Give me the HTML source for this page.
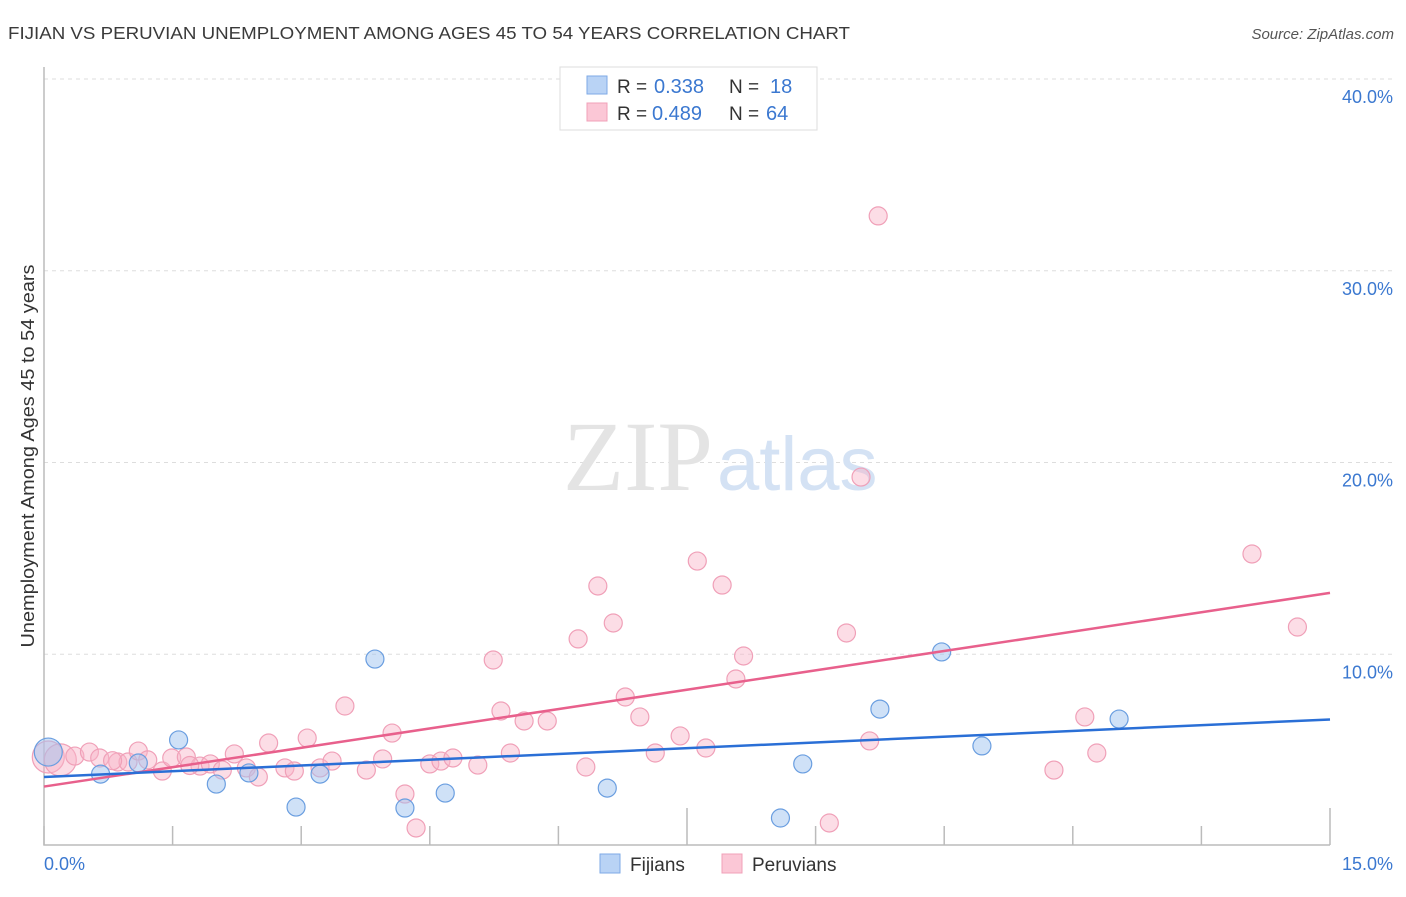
<!DOCTYPE html>
<html><head><meta charset="utf-8"><style>
body{margin:0;background:#fff;font-family:"Liberation Sans",sans-serif}
</style></head><body>
<svg width="1406" height="892" xmlns="http://www.w3.org/2000/svg">
<text x="8" y="39" font-size="17.5" fill="#3a3a3a" textLength="842" lengthAdjust="spacingAndGlyphs">FIJIAN VS PERUVIAN UNEMPLOYMENT AMONG AGES 45 TO 54 YEARS CORRELATION CHART</text>
<text x="1394" y="39" font-size="15" fill="#555" font-style="italic" text-anchor="end">Source: ZipAtlas.com</text>
<g id="grid"></g>
<text x="713" y="490" font-size="100" fill="#e4e4e4" text-anchor="end" font-family="Liberation Serif,serif">ZIP</text>
<text x="717" y="490" font-size="76" fill="#d4e2f4">atlas</text>
<g id="marks"></g>
<text transform="translate(34,456) rotate(-90)" font-size="18" fill="#333" text-anchor="middle" textLength="383" lengthAdjust="spacingAndGlyphs">Unemployment Among Ages 45 to 54 years</text>
<text x="44" y="870" font-size="18" fill="#3b78d0">0.0%</text>
<text x="1393" y="870" font-size="18" fill="#3b78d0" text-anchor="end">15.0%</text>
<g>
<rect x="560" y="67" width="257" height="63" fill="#fff" stroke="#ddd"/>
<rect x="587" y="76" width="20" height="18" fill="#b9d3f5" stroke="#7ea9e6"/>
<rect x="587" y="103" width="20" height="18" fill="#fbc7d6" stroke="#f0a0b8"/>
<text x="617" y="93" font-size="19" fill="#333">R =</text>
<text x="654" y="93" font-size="20" fill="#3b78d0">0.338</text>
<text x="729" y="93" font-size="19" fill="#333">N =</text>
<text x="770" y="93" font-size="20" fill="#3b78d0">18</text>
<text x="617" y="120" font-size="19" fill="#333">R =</text>
<text x="652" y="120" font-size="20" fill="#3b78d0">0.489</text>
<text x="729" y="120" font-size="19" fill="#333">N =</text>
<text x="766" y="120" font-size="20" fill="#3b78d0">64</text>
</g>
<g>
<rect x="600" y="854" width="20" height="19" fill="#b9d3f5" stroke="#7ea9e6"/>
<text x="630" y="871" font-size="19" fill="#333">Fijians</text>
<rect x="722" y="854" width="20" height="19" fill="#fbc7d6" stroke="#f0a0b8"/>
<text x="752" y="871" font-size="19" fill="#333">Peruvians</text>
</g>
</svg>
<script>
const yTicks=[10,20,30,40];
const yTickLabels=["10.0%","20.0%","30.0%","40.0%"];
const xTicks=[0,1.5,3,4.5,6,7.5,9,10.5,12,13.5,15];
const fijX=[0.05,0.66,1.10,1.57,2.01,2.39,2.94,3.22,3.86,4.21,4.68,6.57,8.59,8.85,9.75,10.47,10.94,12.54];
const fijY=[4.9,3.75,4.33,5.53,3.23,3.81,2.03,3.75,9.75,1.98,2.76,3.02,1.46,4.28,7.14,10.12,5.22,6.62];
const perX=[0.05,0.19,0.36,0.53,0.65,0.86,0.98,1.10,1.21,1.38,1.49,1.66,1.82,1.94,2.08,2.22,2.36,2.50,2.62,2.81,2.92,3.07,3.22,3.36,3.51,3.76,3.95,4.06,4.21,4.34,4.50,4.63,4.77,5.06,5.24,5.33,5.44,5.60,5.87,6.23,6.32,6.46,6.64,6.78,6.95,7.13,7.42,7.62,7.72,7.91,8.07,8.16,9.16,9.36,9.63,9.73,9.53,11.78,12.14,12.28,14.09,14.62,0.80,1.70];
const perY=[4.64,4.49,4.69,4.90,4.59,4.38,4.38,4.95,4.49,3.91,4.59,4.64,4.17,4.28,3.96,4.80,4.07,3.60,5.37,4.07,3.91,5.63,4.07,4.43,7.30,3.96,4.54,5.89,2.71,0.94,4.28,4.43,4.59,4.22,9.70,7.04,4.85,6.52,6.52,10.80,4.12,13.56,11.63,7.77,6.73,4.85,5.74,14.86,5.11,13.61,8.71,9.91,1.20,11.11,5.48,32.86,19.24,3.96,6.73,4.85,15.23,11.42,4.45,4.2];
const fijTrend=[3.6,6.6];
const perTrend=[3.1,13.2];
const sx=v=>44+v/15*1286;
const sy=v=>846-v/40*767;
const NS="http://www.w3.org/2000/svg";
const grid=document.getElementById('grid'), marks=document.getElementById('marks');
function mk(tag,attrs,parent){const e=document.createElementNS(NS,tag);for(const k in attrs)e.setAttribute(k,attrs[k]);parent.appendChild(e);return e;}
yTicks.forEach((t,i)=>{
 const l=mk('line',{x1:44,x2:1392,y1:sy(t),y2:sy(t),stroke:'#ddd','stroke-dasharray':'4,4'},grid);
 
 
 const tx=mk('text',{x:1393,y:sy(t)+24,'font-size':18,fill:'#3b78d0','text-anchor':'end'},grid);
 tx.textContent=yTickLabels[i];
 
 
});
const ax=mk('path',{d:'M44 67 V845 H1330',stroke:'#bbb',fill:'none','stroke-width':1.5},grid);


xTicks.forEach((t,i)=>{
 const tall=(i==5||i==10);
 const l=mk('line',{x1:sx(t),x2:sx(t),y1:845,y2:tall?808:826,stroke:'#bbb','stroke-width':1.5},grid);
 
 
});
perX.forEach((x,i)=>{
 const c=mk('circle',{cx:sx(x),cy:sy(perY[i]),r:i<2?16:9,fill:'rgba(248,180,200,0.45)',stroke:'#f0a0b8','stroke-width':1.2},marks);
 
 
});
fijX.forEach((x,i)=>{
 const c=mk('circle',{cx:sx(x),cy:sy(fijY[i]),r:i==0?14:9,fill:'rgba(160,195,240,0.5)',stroke:'#6a9ee0','stroke-width':1.2},marks);
 
 
});
const pl=mk('line',{x1:sx(0),y1:sy(perTrend[0]),x2:sx(15),y2:sy(perTrend[1]),stroke:'#e8608c','stroke-width':2.5},marks);


const bl=mk('line',{x1:sx(0),y1:sy(fijTrend[0]),x2:sx(15),y2:sy(fijTrend[1]),stroke:'#2a6fd6','stroke-width':2.5},marks);


</script>
</body></html>
